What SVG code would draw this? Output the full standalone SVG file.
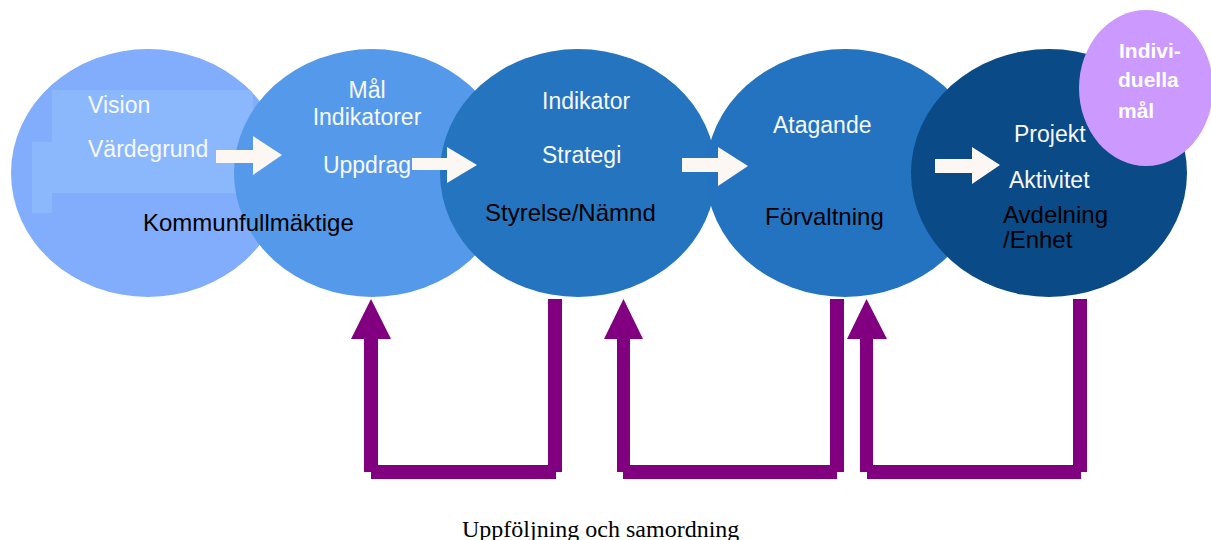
<svg xmlns="http://www.w3.org/2000/svg" width="1211" height="540" viewBox="0 0 1211 540">
<style>
.w{font-family:"Liberation Sans",Arial,sans-serif;font-size:23px;fill:#f7f9ff}
.b{font-family:"Liberation Sans",Arial,sans-serif;font-size:24px;fill:#000}
.v{font-family:"Liberation Sans",Arial,sans-serif;font-size:21px;font-weight:bold;fill:#fff}
.arr{fill:#fcf7f3}
.fb{fill:#800080}
</style>
<defs>
<clipPath id="c1"><ellipse cx="148" cy="173" rx="137" ry="124"/></clipPath>
</defs>
<rect width="1211" height="540" fill="#fff"/>
<g id="node-kommunfullmaktige">
<ellipse cx="148" cy="173" rx="137" ry="124" fill="#82adfc"/>
<g clip-path="url(#c1)">
<rect x="52" y="90" width="201" height="103" fill="#8bb8fd"/>
<rect x="32" y="142" width="20" height="71" fill="#8bb8fd"/>
</g>
<text class="w" x="88" y="113">Vision</text>
<text class="w" x="88" y="157">Värdegrund</text>
</g>
<g id="node-mal">
<ellipse cx="372" cy="173" rx="138" ry="124" fill="#5599ea"/>
<text class="w" x="367" y="98" text-anchor="middle">Mål</text>
<text class="w" x="367" y="125" text-anchor="middle">Indikatorer</text>
<text class="w" x="367" y="173" text-anchor="middle">Uppdrag</text>
</g>
<text class="b" x="143" y="231">Kommunfullmäktige</text>
<g id="node-styrelse">
<ellipse cx="578" cy="173" rx="138" ry="124" fill="#2574c0"/>
<text class="w" x="542" y="109">Indikator</text>
<text class="w" x="542" y="163">Strategi</text>
<text class="b" x="485" y="221">Styrelse/Nämnd</text>
</g>
<g id="node-forvaltning">
<ellipse cx="845" cy="173" rx="139" ry="124" fill="#2473c0"/>
<text class="w" x="773" y="133">Atagande</text>
<text class="b" x="765" y="225">Förvaltning</text>
</g>
<g id="node-avdelning">
<ellipse cx="1049" cy="173" rx="138" ry="124" fill="#0a4a87"/>
<text class="w" x="1014" y="142">Projekt</text>
<text class="w" x="1009" y="188">Aktivitet</text>
<text class="b" x="1003" y="223">Avdelning</text>
<text class="b" x="1003" y="248">/Enhet</text>
</g>
<g id="node-individuella">
<ellipse cx="1146" cy="88" rx="67" ry="78" fill="#cc99fe"/>
<text class="v" x="1119" y="58">Indivi-</text>
<text class="v" x="1118" y="87">duella</text>
<text class="v" x="1118" y="118">mål</text>
</g>
<g id="connectors">
<path class="arr" d="M216,150 H253 V136 L282,155 L253,175 V163 H216 Z"/>
<path class="arr" d="M412,158 H447 V147 L477,165 L447,183 V170 H412 Z"/>
<path class="arr" d="M682,158 H718 V147 L748,166 L718,186 V172 H682 Z"/>
<path class="arr" d="M935,159 H972 V147 L1000,165 L972,184 V173 H935 Z"/>
<g class="fb">
<rect x="548" y="299" width="14" height="173"/>
<rect x="371" y="465" width="185" height="14"/>
<rect x="364" y="339" width="14" height="133"/>
<polygon points="371,299 391,339 351,339"/>
<rect x="830" y="299" width="14" height="173"/>
<rect x="623" y="465" width="214" height="14"/>
<rect x="617" y="339" width="13" height="133"/>
<polygon points="623.5,299 643,339 604,339"/>
<rect x="1073" y="299" width="14" height="173"/>
<rect x="867" y="465" width="214" height="14"/>
<rect x="860" y="339" width="13" height="133"/>
<polygon points="866.5,299 887,339 847,339"/>
</g>
</g>
<text x="462" y="537" font-family="'Liberation Serif','Times New Roman',serif" font-size="24" fill="#000">Uppföljning och samordning</text>
</svg>
